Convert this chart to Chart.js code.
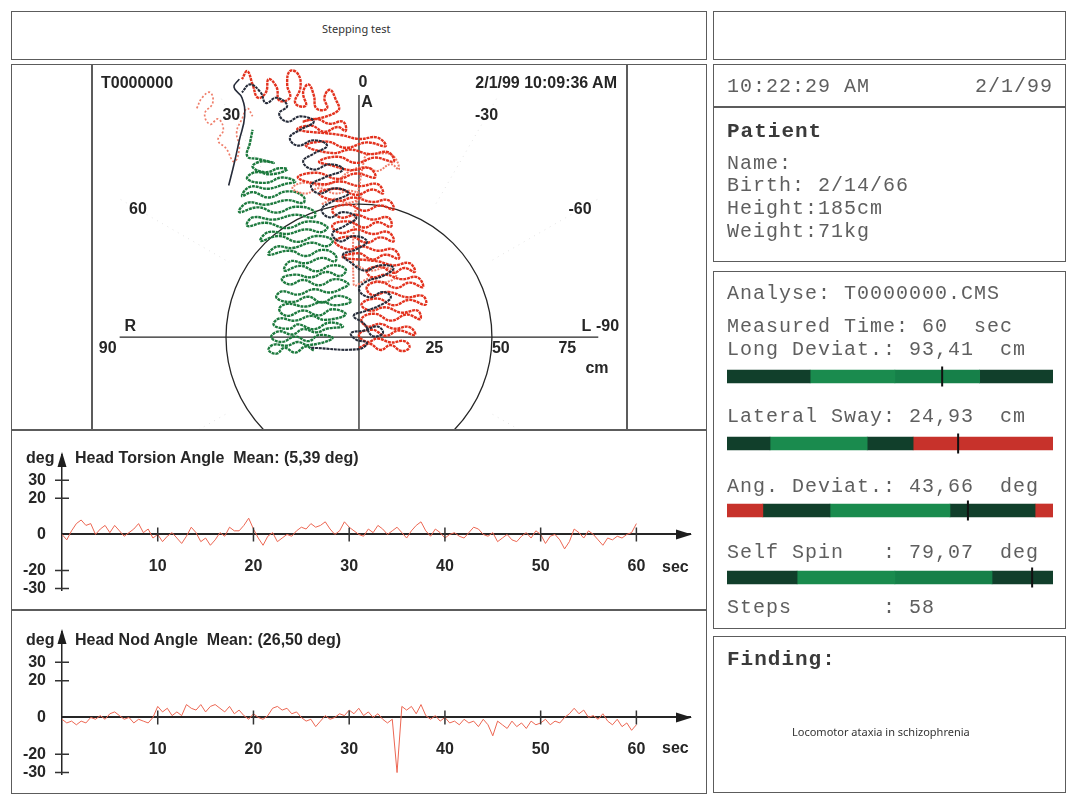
<!DOCTYPE html>
<html>
<head>
<meta charset="utf-8">
<script src="https://cdn.jsdelivr.net/npm/chart.js@4.4.0/dist/chart.umd.min.js"></script>
<style>
body { margin: 0; background: #fff; }
#page { position: relative; width: 1069px; height: 794px; overflow: hidden; font-family: 'Liberation Sans', Arial, sans-serif; color: #262626; }
.box { position: absolute; border: 1.5px solid #5c5c5c; box-sizing: border-box; }
.ln { position: absolute; background: #5c5c5c; }
.t { position: absolute; white-space: pre; line-height: 18px; font-size: 16px; font-weight: bold; }
.m { position: absolute; white-space: pre; font-family: 'Liberation Mono', 'DejaVu Sans Mono', monospace; font-size: 20px; letter-spacing: 1px; line-height: 20px; color: #5f5f5f; }
.b { font-weight: bold; color: #3a3a3a; }
.s { position: absolute; white-space: pre; font-family: 'Noto Sans', sans-serif; font-size: 11px; line-height: 14px; color: #333; }
canvas { position: absolute; }
</style>
</head>
<body>
<div id="page">
  <div class="box" style="left:11px;top:11px;width:696px;height:49px"></div>
  <div class="box" style="left:713px;top:11px;width:353px;height:49px"></div>
  <div class="s" style="left:322px;top:22px">Stepping test</div>

  <canvas id="polar" width="535" height="365" style="left:92px;top:65px"></canvas>
  <canvas id="torsion" width="694" height="178" style="left:12px;top:431px"></canvas>
  <canvas id="nod" width="694" height="182" style="left:12px;top:611px"></canvas>
  <canvas id="gauges" width="326" height="268" style="left:727px;top:343px"></canvas>

  <div class="box" style="left:11px;top:64px;width:696px;height:730px"></div>
  <div class="ln" style="left:91px;top:64px;width:1.5px;height:366px"></div>
  <div class="ln" style="left:626px;top:64px;width:1.5px;height:366px"></div>
  <div class="ln" style="left:11px;top:429px;width:696px;height:1.5px"></div>
  <div class="ln" style="left:11px;top:609px;width:696px;height:1.5px"></div>

  <div class="t" style="left:101px;top:74px">T0000000</div>
  <div class="t" style="right:452px;top:74px">2/1/99 10:09:36 AM</div>

  <div class="t" style="left:26px;top:449px">deg</div>
  <div class="t" style="left:75px;top:449px">Head Torsion Angle  Mean: (5,39 deg)</div>
  <div class="t" style="left:662px;top:558px">sec</div>
  <div class="t" style="left:26px;top:631px">deg</div>
  <div class="t" style="left:75px;top:631px">Head Nod Angle  Mean: (26,50 deg)</div>
  <div class="t" style="left:662px;top:739px">sec</div>

  <div class="box" style="left:713px;top:64px;width:353px;height:44px"></div>
  <div class="box" style="left:713px;top:106px;width:353px;height:156px"></div>
  <div class="box" style="left:713px;top:271px;width:353px;height:358px"></div>
  <div class="box" style="left:713px;top:636px;width:353px;height:157px"></div>

  <div class="m" style="left:727px;top:77px">10:22:29 AM</div>
  <div class="m" style="left:975px;top:77px">2/1/99</div>
  <div class="m b" style="left:727px;top:122px;font-size:21px">Patient</div>
  <div class="m" style="left:727px;top:154px">Name:</div>
  <div class="m" style="left:727px;top:176px">Birth: 2/14/66</div>
  <div class="m" style="left:727px;top:199px">Height:185cm</div>
  <div class="m" style="left:727px;top:222px">Weight:71kg</div>

  <div class="m" style="left:727px;top:284px">Analyse: T0000000.CMS</div>
  <div class="m" style="left:727px;top:317px">Measured Time: 60  sec</div>
  <div class="m" style="left:727px;top:340px">Long Deviat.: 93,41  cm</div>
  <div class="m" style="left:727px;top:407px">Lateral Sway: 24,93  cm</div>
  <div class="m" style="left:727px;top:477px">Ang. Deviat.: 43,66  deg</div>
  <div class="m" style="left:727px;top:543px">Self Spin   : 79,07  deg</div>
  <div class="m" style="left:727px;top:598px">Steps       : 58</div>

  <div class="m b" style="left:727px;top:650px;font-size:21px">Finding:</div>
  <div class="s" style="left:792px;top:725px">Locomotor ataxia in schizophrenia</div>
</div>

<script>
// ---- stepping test traces, cm (x: lateral, y: forward) ----
const greenTrace = [
  [-17,-5],[-20,-3.5],[-24,-5.8],[-28,-4],[-31,-6.2],[-34,-4.8],[-32,-2.8],[-27,-3.2],[-23,-1.8],[-19,-3],
  [-10,-0.5],[-15,0.8],[-19,-1.5],[-24,0.2],[-29,-1.8],[-33,0],[-30,2.2],[-25,1],[-21,3],[-16,1.8],[-12,3.2],
  [-6,4],[-11,5.5],[-17,3],[-23,4.8],[-26,3.2],[-32,4.5],[-30,7],[-24,6.2],[-18,8],[-13,6.5],
  [-5,8.5],[-10,10.5],[-15,8.2],[-21,10],[-27,8],[-30,10.5],[-27,12.5],[-20,11.5],[-14,13.2],[-9,12],
  [-3,13.5],[-8,15.5],[-14,13],[-19,15.2],[-25,13.2],[-31,14.8],[-29,17.2],[-23,16],[-17,18],[-11,16.8],[-6,18.5],
  [-4,20],[-9,21.8],[-15,19.5],[-21,21.5],[-26,19.8],[-29,22],[-24,23.5],[-18,22.5],[-12,24.5],[-7,23],
  [-5,25.5],[-10,27],[-16,24.8],[-22,26.8],[-28,25],[-26,28.5],[-20,27.8],[-14,29.8],[-9,28.5],
  [-9,31],[-14,32.8],[-20,30.5],[-26,32.5],[-34,31],[-31,34],[-25,33.5],[-18,35.5],[-12,34.2],
  [-10,36.5],[-16,38],[-23,35.8],[-30,38],[-37,36.2],[-34,39.5],[-27,38.8],[-20,40.5],[-14,39.5],
  [-12,41.5],[-19,43.5],[-27,41],[-35,43],[-42,41.8],[-40,45],[-32,44.2],[-24,46],[-17,45],
  [-17,47.5],[-24,49],[-31,46.8],[-38,48.8],[-45,47],[-42,50.5],[-35,49.8],[-27,51.5],[-21,50.5],
  [-21,53],[-27,54.8],[-34,52.5],[-40,54.5],[-44,53],[-41,56.5],[-34,55.8],[-28,57.5],
  [-24,58.5],[-29,60],[-35,58],[-42,59.5],[-39,62],[-33,61.2],[-27,63],
  [-30,63.5],[-35,62],[-40,64],[-37,66],[-32,65.5],
  [-38,67],[-42,68],[-41,73],[-40,78]
];
const redTrace = [
  [0,-4],[4,-2.5],[8,-4.8],[12,-3],[16,-5.2],[19,-3.8],[17,-1.5],[12,-2],[7,-0.5],[3,-1.8],
  [0,1],[5,2.8],[10,0.5],[15,2.5],[21,0.8],[19,3.8],[13,3.2],[8,5],[3,4],
  [1,7],[6,8.8],[12,6.2],[18,8.5],[23,6.8],[22,10],[16,9.2],[10,11.2],[4,10],
  [1,12.5],[7,14.5],[13,12],[19,14],[25,12.2],[24,15.5],[18,15],[11,17],[5,15.8],
  [3,19],[8,20.8],[14,18.5],[19,20.5],[24,18.8],[22,22.5],[16,21.8],[10,23.5],[5,22.5],
  [3,25],[8,26.5],[13,24.2],[17,26],[21,24.5],[19,27.8],[13,27],[7,28.5],
  [-6,30],[0,31.5],[5,29.2],[10,31],[15,29.5],[13,33],[7,32.5],[1,34.2],[-4,33],
  [-9,36],[-3,37.8],[3,35.5],[8,37.5],[13,36],[11,39.5],[5,38.8],[-1,40.5],[-7,39.2],
  [-10,42],[-4,43.5],[2,41.2],[7,43.2],[12,41.5],[11,45],[5,44.2],[-1,46],[-7,45],
  [-10,48],[-4,49.8],[2,47.5],[8,49.5],[13,48],[11,51.5],[5,50.8],[-2,52.5],[-8,51.2],
  [-15,54],[-8,55.8],[-1,53.5],[5,55.5],[9,54],[7,57.5],[0,56.8],[-7,58.5],[-14,57.5],
  [-23,60],[-16,61.8],[-8,59.5],[-1,61.5],[6,60],[4,63.5],[-3,62.8],[-10,64.5],
  [-15,66],[-8,67.8],[-1,65.5],[6,67.5],[13,66],[11,69.5],[4,68.8],[-3,70.5],[-10,69.2],
  [-20,72],[-12,73.5],[-5,71.2],[3,73.2],[10,71.8],[7,75],[0,74.5],[-7,76],
  [-23,78],[-18,79.5],[-13,77.2],[-8,79],[-5,77.5],[-6,81],[-11,80.2],[-16,82],[-21,81],
  [-8,85],[-9,90],[-11,93],[-13,90],[-12,86],[-16,86],[-17,91],[-19,95],[-21,92],[-20,87],
  [-24,88],[-22,94],[-23,99],[-26,100],[-27,95],[-26,90],[-30,89],[-31,94],[-34,97],[-35,92],
  [-38,90],[-40,95],[-42,100],[-44,97]
];
const salmonTraceLeft = [
  [-61,86],[-59,90],[-56,92],[-55,88],[-58,84],[-56,80],[-53,82],[-51,78],[-53,74],[-50,71],
  [-47,66],[-45,71],[-46,77],[-44,82],[-42,86],[-40,83]
];
const salmonTraceMid = [
  [-14,50],[-9,52],[-4,50.5],[1,53],[-3,55],[-9,54],[-15,56],[-20,54],[-25,56],[-21,58],[-14,57],[-8,59],
  [-4,62],[2,64],[7,62.5],[12,65],[15,63],[13,68],[8,69],[2,67],
  [-2,20],[4,22],[9,20.5],[14,23],[11,26],[4,25],[-1,27]
];
const darkTrace = [
  [-18,-4],[0,-4.5],[3,-2],[-1,-1],[-3,1.5],[2,2.5],[7,4],[9,1.5],[5,0.5],[2,5],[-2,8],[3,10],
  [8,12],[12,15],[9,17],[4,15],[0,18],[3,21],[9,23],[13,26],[8,27],[2,25],[-3,28],[-6,31],
  [-1,33],[3,36],[-2,38],[-7,36],[-10,39],[-5,42],[-1,45],[-6,47],[-11,45],[-14,48],[-10,51],
  [-4,54],[-9,56],[-15,54],[-18,57],[-13,60],[-6,63],[-11,65],[-17,63],[-21,66],[-17,69],
  [-12,72],[-17,74],[-23,72],[-26,75],[-22,78],[-17,81],[-22,83],[-27,81],[-30,84],[-27,87],
  [-31,90],[-35,88],[-37,92],[-41,95],[-44,92]
];
const darkStrand = [[-49,57],[-47,65],[-45,74],[-43,83],[-44,90],[-47,94],[-45,97]];

const angleLabels = [0, -30, -60, -90, 30, 60, 90];
const distanceTicks = [25, 50, 75];
const ringRadius = 50;

// ---- head angles, deg, sampled every 0.5 s from 0 to 60 s ----
const sampleStep = 0.5;
const timeTicks = [10, 20, 30, 40, 50, 60];
const degTicks = [-30, -20, 0, 20, 30];
const torsionValues = [
  0,-3,2,6,8,5,6,0,3,5, 1,5,2,-1,1,3,6,1,3,-2,
  0,-4,-1,1,-2,-5,-1,4,1,-4, -2,-6,-3,1,-1,4,2,2,5,9,
  3,-2,-6,-1,1,-4,-2,0,-1,2, 4,3,6,4,5,7,3,0,2,7,
  4,2,0,-1,3,1,5,3,0,2, 4,1,-2,2,5,7,2,-1,3,1,
  -2,0,1,-1,-2,1,4,3,0,-1, 1,-4,-2,0,-3,-4,-1,1,-2,2,
  0,-5,-1,0,-3,-8,-4,3,1,-2, 2,0,-3,-6,-2,-3,-1,-2,0,1,
  6
];
const nodValues = [
  -1,-3,-2,-4,-2,-3,0,-1,1,-1, 2,3,1,-1,0,-3,-1,-2,-3,0,
  6,3,5,1,3,1,7,5,4,7, 3,6,7,5,3,6,2,4,1,-1,
  2,0,-1,1,5,6,4,5,2,3, 0,-2,-1,-5,-2,1,-1,0,2,1,
  4,2,5,1,3,0,2,-1,-3,-1, -30,6,4,6,2,7,1,-1,1,-2,
  0,-3,-2,-4,-1,-3,-2,-5,-1,-4, -10,-2,-4,-6,-2,-5,-3,-6,-2,-4,
  -3,-1,-4,-2,-3,0,2,5,2,4, 0,1,-1,2,-2,-4,-1,-5,-3,-7,
  -4
];

// ---- gauges (percent of bar length) ----
const gaugeNames = ['Long Deviat.', 'Lateral Sway', 'Ang. Deviat.', 'Self Spin'];
const gaugeSegments = [
  [25.5, 26, 26, 22.5],
  [13.2, 29.8, 14.1, 42.9],
  [11, 20.6, 36.8, 26.1, 5.5],
  [21.5, 30, 29.8, 18.7]
];
const gaugeZones = [
  ['dark', 'green', 'green2', 'dark'],
  ['dark', 'green', 'dark', 'red'],
  ['red', 'dark', 'green', 'dark', 'red'],
  ['dark', 'green', 'green2', 'dark']
];
const gaugeMarkers = [66, 70.9, 73.9, 93.6];

Chart.defaults.font.family = "'Liberation Sans', Arial, sans-serif";
Chart.defaults.color = '#262626';

const toPts = arr => arr.map(p => ({ x: p[0], y: p[1] }));
const rad = a => a * Math.PI / 180;

const polarDecor = {
  id: 'polarDecor',
  beforeDatasetsDraw(chart) {
    const ctx = chart.ctx;
    const sx = chart.scales.x, sy = chart.scales.y;
    const px = v => sx.getPixelForValue(v), py = v => sy.getPixelForValue(v);
    ctx.save();
    // faint dotted spokes
    ctx.strokeStyle = '#e3e3e3';
    ctx.lineWidth = 1;
    ctx.setLineDash([1, 5]);
    [30, 60, 120, 150, -30, -60, -120, -150].forEach(a => {
      ctx.beginPath();
      ctx.moveTo(px(-58 * Math.sin(rad(a))), py(58 * Math.cos(rad(a))));
      ctx.lineTo(px(-105 * Math.sin(rad(a))), py(105 * Math.cos(rad(a))));
      ctx.stroke();
    });
    ctx.setLineDash([]);
    // axes and ring
    ctx.strokeStyle = '#262626';
    ctx.lineWidth = 1.3;
    ctx.beginPath();
    ctx.moveTo(px(-90), py(0));
    ctx.lineTo(px(90), py(0));
    ctx.moveTo(px(0), py(91));
    ctx.lineTo(px(0), py(sy.min));
    ctx.stroke();
    ctx.beginPath();
    ctx.arc(px(0), py(0), px(ringRadius) - px(0), 0, Math.PI * 2);
    ctx.stroke();
    // labels
    ctx.fillStyle = '#262626';
    ctx.font = "bold 16px 'Liberation Sans', Arial, sans-serif";
    ctx.textAlign = 'center';
    ctx.textBaseline = 'middle';
    angleLabels.forEach(a => {
      let x = -96 * Math.sin(rad(a)), y = 96 * Math.cos(rad(a));
      if (a === 0) { x = 1.5; y = 95.5; }
      if (a === 90) { x = -94.5; y = -4.3; }
      if (a === -90) { x = 93.5; y = 3.8; }
      ctx.fillText(String(a), px(x), py(y));
    });
    ctx.fillText('R', px(-86), py(3.8));
    ctx.fillText('L', px(85.5), py(3.8));
    ctx.fillText('A', px(3), py(88.3));
    ctx.fillText('cm', px(89.5), py(-11.7));
    ctx.textAlign = 'left';
    distanceTicks.forEach(d => ctx.fillText(String(d), px(d), py(-4.2)));
    ctx.restore();
  }
};

const traceStyle = (data, color, width, dash) => ({
  data: toPts(data), showLine: true, borderColor: color, borderWidth: width,
  borderDash: dash, pointRadius: 0, tension: 0.45
});

new Chart(document.getElementById('polar'), {
  type: 'scatter',
  data: {
    datasets: [
      traceStyle(darkTrace, '#262c3a', 2.1, [3, 0.8]),
      traceStyle(darkStrand, '#262c3a', 1.6, []),
      traceStyle(redTrace, '#e3331f', 2.4, [3, 0.8]),
      traceStyle(salmonTraceMid, '#ef7e6a', 2, [2, 1.2]),
      traceStyle(salmonTraceLeft, '#ef7e6a', 1.7, [2, 2]),
      traceStyle(greenTrace, '#1d7a3e', 2.4, [3, 0.8])
    ]
  },
  options: {
    responsive: false,
    animation: false,
    layout: { padding: 0 },
    plugins: { legend: { display: false }, tooltip: { enabled: false } },
    scales: {
      x: { type: 'linear', display: false, min: -100.4, max: 100.8 },
      y: { type: 'linear', display: false, min: -34.9, max: 102.3 }
    }
  },
  plugins: [polarDecor]
});

// arrowheads and crossing tick marks on the head angle plots
const axisArrows = {
  id: 'axisArrows',
  afterDraw(chart) {
    const ctx = chart.ctx, a = chart.chartArea;
    const sx = chart.scales.x, sy = chart.scales.y;
    const y0 = sy.getPixelForValue(0);
    ctx.save();
    ctx.strokeStyle = '#333';
    ctx.lineWidth = 1.5;
    ctx.beginPath();
    timeTicks.forEach(t => {
      const x = sx.getPixelForValue(t);
      ctx.moveTo(x, y0 - 7);
      ctx.lineTo(x, y0 + 7);
    });
    degTicks.forEach(d => {
      if (d === 0) return;
      const y = sy.getPixelForValue(d);
      ctx.moveTo(a.left - 7, y);
      ctx.lineTo(a.left + 7, y);
    });
    ctx.stroke();
    ctx.fillStyle = '#1e1e1e';
    ctx.beginPath();
    ctx.moveTo(a.right + 2, y0);
    ctx.lineTo(a.right - 14, y0 - 5);
    ctx.lineTo(a.right - 14, y0 + 5);
    ctx.closePath();
    ctx.fill();
    ctx.beginPath();
    ctx.moveTo(a.left, a.top - 3);
    ctx.lineTo(a.left - 4.5, a.top + 12);
    ctx.lineTo(a.left + 4.5, a.top + 12);
    ctx.closePath();
    ctx.fill();
    ctx.restore();
  }
};

function headChart(id, values, yMax, padTop, padBottom) {
  new Chart(document.getElementById(id), {
    type: 'line',
    data: {
      datasets: [{
        data: values.map((v, i) => ({ x: i * sampleStep, y: v })),
        borderColor: '#ec6753', borderWidth: 1, pointRadius: 0, tension: 0
      }]
    },
    options: {
      responsive: false,
      animation: false,
      layout: { padding: { top: padTop, bottom: padBottom, right: 16, left: 0 } },
      plugins: { legend: { display: false }, tooltip: { enabled: false } },
      scales: {
        x: {
          type: 'linear', position: { y: 0 }, min: 0, max: 65.6,
          afterBuildTicks: s => { s.ticks = timeTicks.map(v => ({ value: v })); },
          ticks: { padding: 16, color: '#262626', font: { size: 16, weight: 'bold' } },
          grid: { drawOnChartArea: false, tickLength: 7, color: 'transparent' },
          border: { display: true, color: '#262626', width: 2 }
        },
        y: {
          type: 'linear', min: -31, max: yMax,
          afterBuildTicks: s => { s.ticks = degTicks.map(v => ({ value: v })); },
          afterFit: s => { s.width = 50; },
          ticks: { padding: 9, color: '#262626', font: { size: 16, weight: 'bold' } },
          grid: { drawOnChartArea: false, tickLength: 7, color: 'transparent' },
          border: { display: true, color: '#262626', width: 1.5 }
        }
      }
    },
    plugins: [axisArrows]
  });
}

headChart('torsion', torsionValues, 44, 24, 14);
headChart('nod', nodValues, 46.5, 21, 16);

const zoneColors = { dark: '#113f2b', green: '#1a8b4e', green2: '#168049', red: '#c7322b' };

const gaugeMarks = {
  id: 'gaugeMarks',
  afterDatasetsDraw(chart) {
    const ctx = chart.ctx, sx = chart.scales.x, sy = chart.scales.y;
    ctx.save();
    ctx.strokeStyle = '#111';
    ctx.lineWidth = 2;
    gaugeMarkers.forEach((m, i) => {
      const x = sx.getPixelForValue(m), y = sy.getPixelForValue(i);
      ctx.beginPath();
      ctx.moveTo(x, y - 10);
      ctx.lineTo(x, y + 10);
      ctx.stroke();
    });
    ctx.restore();
  }
};

const maxSegs = Math.max(...gaugeSegments.map(s => s.length));
const gaugeSets = [];
for (let k = 0; k < maxSegs; k++) {
  gaugeSets.push({
    data: gaugeSegments.map(s => s[k] || 0),
    backgroundColor: gaugeZones.map(z => zoneColors[z[k]] || 'transparent'),
    borderWidth: 0,
    barThickness: 13
  });
}

new Chart(document.getElementById('gauges'), {
  type: 'bar',
  data: { labels: gaugeNames, datasets: gaugeSets },
  options: {
    indexAxis: 'y',
    responsive: false,
    animation: false,
    layout: { padding: 0 },
    plugins: { legend: { display: false }, tooltip: { enabled: false } },
    scales: {
      x: { stacked: true, display: false, min: 0, max: 100 },
      y: { stacked: true, display: false }
    }
  },
  plugins: [gaugeMarks]
});
</script>
</body>
</html>
